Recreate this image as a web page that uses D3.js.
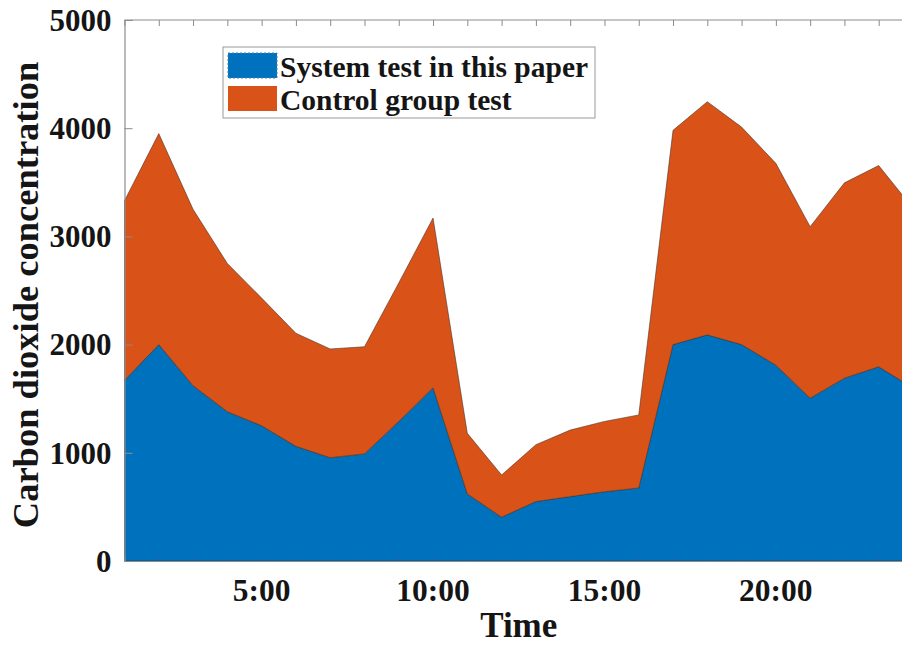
<!DOCTYPE html>
<html>
<head>
<meta charset="utf-8">
<script src="https://cdn.jsdelivr.net/npm/d3@7"></script>
<style>
  body { margin: 0; background: #fff; }
  svg { display: block; }
  text { font-family: "Liberation Serif", "Times New Roman", serif; font-weight: bold; fill: #151515; }
</style>
</head>
<body>
<div id="chart"></div>
<script>
// hours of the day
const hours = [1, 2, 3, 4, 5, 6, 7, 8, 9, 10, 11, 12, 13, 14, 15, 16, 17, 18, 19, 20, 21, 22, 23, 24];
// system test in this paper (bottom layer)
const systemTest = [1670, 2000, 1620, 1380, 1250, 1060, 955, 990, 1290, 1600, 620, 405,
                    550, 595, 640, 675, 2000, 2090, 2000, 1810, 1505, 1690, 1795, 1600];
// control group test (stacked on top)
const controlTest = [1660, 1950, 1630, 1370, 1180, 1045, 1005, 990, 1280, 1570, 560, 390,
                     525, 615, 650, 675, 1980, 2155, 2010, 1865, 1585, 1805, 1860, 1660];
const seriesNames = ['System test in this paper', 'Control group test'];
const seriesColors = ['#0072BD', '#D95319'];
const yTicks = [0, 1000, 2000, 3000, 4000, 5000];
const xLabelTicks = [5, 10, 15, 20];

const width = 902, height = 646;
const margin = {top: 20, left: 124.5, bottom: 85};
const plotRight = 913;   // x = 24 falls just outside the visible picture

const svg = d3.select('#chart').append('svg')
  .attr('width', width)
  .attr('height', height);

const x = d3.scaleLinear().domain([1, 24]).range([margin.left, plotRight]);
const y = d3.scaleLinear().domain([0, 5000]).range([height - margin.bottom, margin.top]);

const table = hours.map((h, i) => ({hour: h, system: systemTest[i], control: controlTest[i]}));
const stacked = d3.stack().keys(['system', 'control'])(table);

const area = d3.area()
  .x(d => x(d.data.hour))
  .y0(d => y(d[0]))
  .y1(d => y(d[1]));

svg.append('g').selectAll('path')
  .data(stacked)
  .join('path')
  .attr('d', area)
  .attr('fill', (d, i) => seriesColors[i])
  .attr('stroke', '#3a2a22')
  .attr('stroke-opacity', 0.6)
  .attr('stroke-width', 0.9);

// box lines
const axisColor = '#8c8c8c';
svg.append('line')
  .attr('x1', x(1)).attr('x2', plotRight)
  .attr('y1', y(5000)).attr('y2', y(5000))
  .attr('stroke', axisColor).attr('stroke-width', 1.2);

// top ticks (inward)
svg.append('g')
  .attr('transform', `translate(0,${y(5000)})`)
  .call(d3.axisBottom(x).tickValues(hours).tickSize(6).tickFormat(''))
  .call(g => g.select('.domain').remove())
  .call(g => g.selectAll('line').attr('stroke', axisColor));

// bottom axis, ticks inward
const xAxis = svg.append('g')
  .attr('transform', `translate(0,${y(0)})`)
  .call(d3.axisTop(x).tickValues(hours).tickSize(5).tickFormat(''));
xAxis.select('.domain').attr('stroke', axisColor).attr('stroke-width', 1.2);
xAxis.selectAll('line').attr('stroke', '#2f5f8f').attr('stroke-opacity', 0.6);

svg.append('g').selectAll('text')
  .data(xLabelTicks)
  .join('text')
  .attr('x', d => x(d))
  .attr('y', y(0) + 40)
  .attr('text-anchor', 'middle')
  .attr('font-size', 31.5)
  .text(d => `${d}:00`);

// left axis, ticks inward
const yAxis = svg.append('g')
  .attr('transform', `translate(${x(1)},0)`)
  .call(d3.axisRight(y).tickValues(yTicks).tickSize(8).tickFormat(''));
yAxis.select('.domain').attr('stroke', axisColor).attr('stroke-width', 1.2);
yAxis.selectAll('line').attr('stroke', axisColor);

svg.append('g').selectAll('text')
  .data(yTicks)
  .join('text')
  .attr('x', x(1) - 13)
  .attr('y', d => y(d))
  .attr('dy', '0.35em')
  .attr('text-anchor', 'end')
  .attr('font-size', 31)
  .text(d => d);

// axis titles
svg.append('text')
  .attr('x', (x(1) + plotRight) / 2)
  .attr('y', 637)
  .attr('text-anchor', 'middle')
  .attr('font-size', 35)
  .text('Time');

svg.append('text')
  .attr('transform', `translate(38,295) rotate(-90)`)
  .attr('text-anchor', 'middle')
  .attr('font-size', 36.5)
  .text('Carbon dioxide concentration');

// legend
const legend = svg.append('g');
legend.append('rect')
  .attr('x', 223).attr('y', 47)
  .attr('width', 372).attr('height', 71)
  .attr('fill', '#fff')
  .attr('stroke', '#999').attr('stroke-width', 1);

const rows = legend.selectAll('g.row')
  .data(seriesNames)
  .join('g')
  .attr('class', 'row')
  .attr('transform', (d, i) => `translate(0,${i * 33})`);

rows.append('rect')
  .attr('x', 228).attr('y', 53)
  .attr('width', 49).attr('height', 25)
  .attr('fill', (d, i) => seriesColors[i])
  .attr('stroke', (d, i) => i === 0 ? '#4a7fb0' : 'none')
  .attr('stroke-dasharray', '2,2');

rows.append('text')
  .attr('x', 280).attr('y', 77)
  .attr('font-size', 29.5)
  .text(d => d);
</script>
</body>
</html>
